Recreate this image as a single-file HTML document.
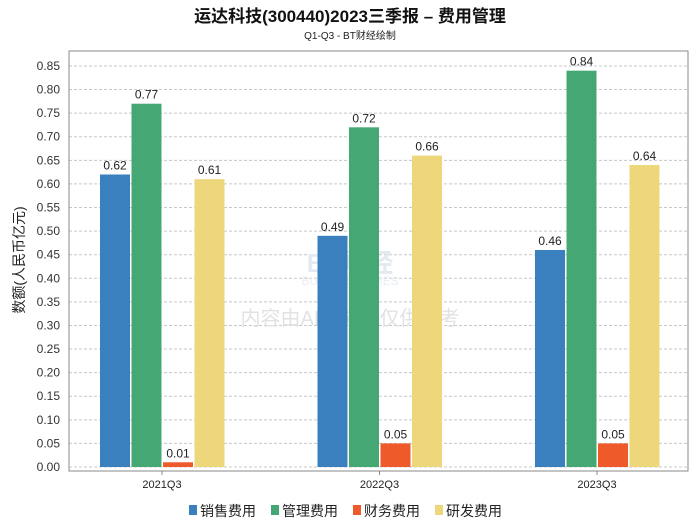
<!DOCTYPE html>
<html><head><meta charset="utf-8"><style>
body{margin:0;background:#fff;width:700px;height:524px;overflow:hidden;font-family:"Liberation Sans","Noto Sans CJK SC",sans-serif;}
</style></head><body>
<svg width="700" height="524" font-family="Liberation Sans, Noto Sans CJK SC, sans-serif">
<text x="350" y="22" text-anchor="middle" font-size="17" font-weight="bold" fill="#111">运达科技(300440)2023三季报 – 费用管理</text>
<text x="350" y="39" text-anchor="middle" font-size="10" fill="#222">Q1-Q3 - BT财经绘制</text>
<g id="grid"></g>
<rect x="69" y="51" width="619" height="420" fill="none" stroke="#888"/>
<text x="350" y="272" text-anchor="middle" font-size="26" font-weight="bold" fill="#e4eaf2">BT财经</text>
<text x="350" y="285" text-anchor="middle" font-size="12" fill="#e8edf3">BUSINESSTIMES</text>
<text x="350" y="325" text-anchor="middle" font-size="20" fill="#e2e2e2">内容由AI生成，仅供参考</text>
<g id="bars"></g>
<text transform="translate(24,260) rotate(-90)" text-anchor="middle" font-size="14" fill="#222">数额(人民币亿元)</text>
<g id="legend"></g>
</svg>
<script>
const categories=["2021Q3","2022Q3","2023Q3"];
const seriesNames=["销售费用","管理费用","财务费用","研发费用"];
const sales=[0.62,0.49,0.46];
const admin=[0.77,0.72,0.84];
const finance=[0.01,0.05,0.05];
const rnd=[0.61,0.66,0.64];
const yTicks=[0,0.05,0.1,0.15,0.2,0.25,0.3,0.35,0.4,0.45,0.5,0.55,0.6,0.65,0.7,0.75,0.8,0.85];
const colors=["#3a80bf","#45a874","#ee5a2a","#edd77a"];
const NS="http://www.w3.org/2000/svg";
const y=v=>467-v/0.05*23.59;
const xc=i=>162+i*217.5;
function mk(t,a,p){const e=document.createElementNS(NS,t);for(const k in a)e.setAttribute(k,a[k]);p.appendChild(e);return e;}
const grid=document.getElementById('grid');
yTicks.forEach(v=>{
  const l=mk('line',{x1:69,x2:688,y1:y(v),y2:y(v),stroke:'#c8c8c8','stroke-dasharray':'3,2'},grid);
  
  
  const t=mk('text',{x:60,y:y(v)+4,'text-anchor':'end','font-size':12,fill:'#333'},grid);
  t.textContent=v.toFixed(2);
  
  
});
const bars=document.getElementById('bars');
const all=[sales,admin,finance,rnd];
categories.forEach((c,i)=>{
  all.forEach((s,j)=>{
    const x=xc(i)-62+j*31.5;
    const r=mk('rect',{x:x,y:y(s[i]),width:30,height:467-y(s[i]),fill:colors[j]},bars);
    
    
    const t=mk('text',{x:x+15,y:y(s[i])-5,'text-anchor':'middle','font-size':12,fill:'#222'},bars);
    t.textContent=s[i].toFixed(2);
    
    
  });
  const tl=mk('text',{x:xc(i),y:488,'text-anchor':'middle','font-size':11,fill:'#222'},bars);
  tl.textContent=c;
  
  
  const tk=mk('line',{x1:xc(i),x2:xc(i),y1:471,y2:475,stroke:'#888'},bars);
  
  
});
const lg=document.getElementById('legend');
seriesNames.forEach((n,j)=>{
  const x=189+j*82;
  const r=mk('rect',{x:x,y:505,width:8,height:10,fill:colors[j]},lg);
  
  
  const t=mk('text',{x:x+11,y:516,'font-size':14,fill:'#222'},lg);
  t.textContent=n;
  
  
});
</script>
</body></html>
